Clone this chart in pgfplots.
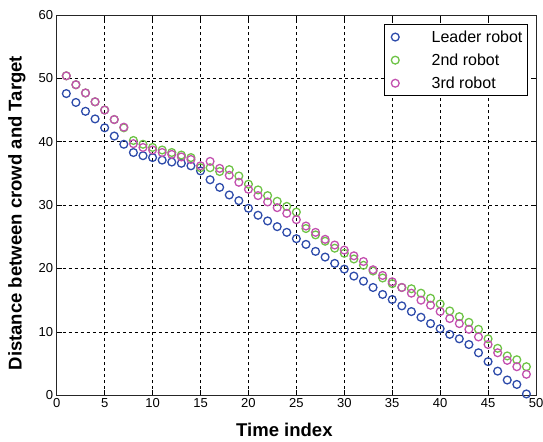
\documentclass[border=0pt]{standalone}
\usepackage{fontspec}
\setmainfont{Liberation Sans}
\usepackage{pgfplots}
\pgfplotsset{compat=1.18}
\definecolor{leadblue}{RGB}{45,75,170}
\definecolor{secgreen}{RGB}{110,195,70}
\definecolor{thirdmag}{RGB}{195,80,175}

\pgfplotstableread{
t leader second third
1 47.6 50.4 50.4
2 46.2 49.0 49.0
3 44.8 47.7 47.7
4 43.6 46.3 46.3
5 42.2 45.0 45.0
6 40.9 43.5 43.5
7 39.6 42.2 42.3
8 38.3 40.2 39.7
9 37.8 39.6 39.1
10 37.5 39.1 38.7
11 37.1 38.7 38.3
12 36.8 38.3 38.0
13 36.6 37.9 37.6
14 36.2 37.5 37.2
15 35.4 35.9 36.2
16 34.0 35.9 36.9
17 32.8 35.3 35.8
18 31.6 35.6 34.7
19 30.7 34.6 33.6
20 29.5 33.3 32.5
21 28.4 32.4 31.5
22 27.5 31.5 30.5
23 26.6 30.6 29.6
24 25.7 29.8 28.7
25 24.7 28.9 27.7
26 23.8 26.3 26.7
27 22.7 25.3 25.7
28 21.8 24.3 24.6
29 20.8 23.2 23.7
30 19.9 22.4 22.9
31 18.8 21.5 22.0
32 18.0 20.5 21.1
33 17.0 19.6 19.8
34 15.9 18.5 18.9
35 15.1 17.6 17.9
36 14.1 17.0 17.0
37 13.2 16.8 16.1
38 12.3 16.1 15.0
39 11.3 15.3 14.2
40 10.5 14.4 13.2
41 9.6 13.3 12.1
42 8.9 12.4 11.3
43 8.0 11.5 10.4
44 6.7 10.4 9.2
45 5.3 8.9 8.0
46 3.8 7.4 6.7
47 2.4 6.2 5.5
48 1.7 5.6 4.5
49 0.2 4.5 3.3
}\robots

\begin{document}
\begin{tikzpicture}
\begin{axis}[name=ax,
  scale only axis,width=479bp,height=380bp,
  xmin=0,xmax=50,ymin=0,ymax=60,
  xtick={0,5,...,50},ytick={0,10,...,60},
  tick align=inside,major tick length=5bp,
  tick style={black,line width=0.6pt},
  axis line style={black!85,line width=0.8pt},
  grid=major,grid style={black,dash pattern=on 3bp off 3bp,line width=0.6pt},
  /pgf/number format/assume math mode=true,
  tick label style={font=\fontsize{13bp}{15bp}\selectfont},
  xlabel={\bfseries Time index},
  ylabel={\bfseries Distance between crowd and Target},
  label style={font=\fontsize{18.5bp}{21bp}\selectfont},
  xlabel style={at={(axis description cs:0.475,-0.1097)},anchor=base},
  ylabel style={at={(axis description cs:-0.083,0.479)},anchor=center},
  legend style={at={(0.983,0.976)},anchor=north east,
    draw=black,line width=0.8pt,inner xsep=3bp,inner ysep=4bp,
    font=\fontsize{16bp}{18bp}\selectfont,row sep=6bp,
    cells={anchor=west}},
  legend image code/.code={\path (0bp,0bp) (41bp,0bp);
    \draw[mark repeat=2,mark phase=2,#1]
    plot coordinates {(0bp,0bp)(7bp,0bp)(41bp,0bp)};},
  every axis plot/.append style={only marks,mark=o,mark size=3.9bp,
    mark options={line width=1.3pt}},
]
\addplot[color=leadblue] table[x=t,y=leader]{\robots};
\addlegendentry{Leader robot}
\addplot[color=secgreen] table[x=t,y=second]{\robots};
\addlegendentry{2nd robot}
\addplot[color=thirdmag] table[x=t,y=third]{\robots};
\addlegendentry{3rd robot}
\end{axis}
\pgfresetboundingbox
\path[use as bounding box] ([shift={(-56.7bp,-46bp)}]ax.south west)
  rectangle ([shift={(7bp,15bp)}]ax.north east);
\end{tikzpicture}
\end{document}
